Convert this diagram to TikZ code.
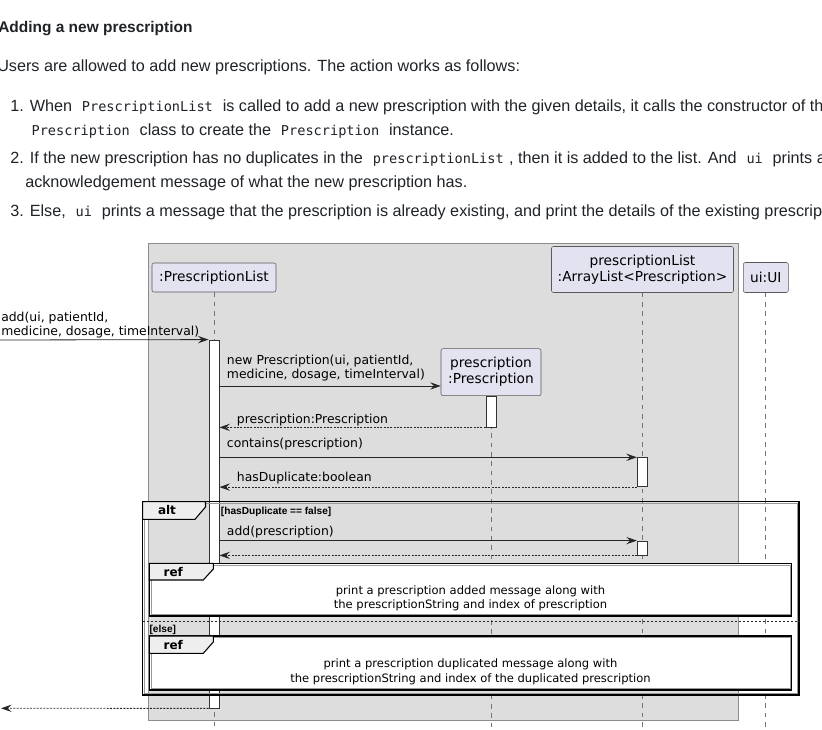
\documentclass[tikz,border=0pt]{standalone}
\usepackage{fontspec}
\setmainfont{Liberation Sans}
\newfontfamily\umlfont{DejaVu Sans}
\newfontfamily\codefont{DejaVu Sans Mono}
\usetikzlibrary{arrows.meta}

\definecolor{ghtext}{HTML}{1F2328}
\definecolor{boxgray}{HTML}{DDDDDD}
\definecolor{partfill}{HTML}{E2E2F0}
\definecolor{tabfill}{HTML}{EEEEEE}

\newcommand{\inlinecode}[1]{\hspace{4pt}{\codefont\fontsize{10.2}{12}\selectfont #1}\hspace{4pt}}

\tikzset{
	bodytext/.style={anchor=base west, inner sep=0pt, text=ghtext, font=\fontsize{12.15}{15}\selectfont},
	participant/.style={draw=black!65, fill=partfill, rounded corners=1.5pt, inner sep=0pt, align=center, font=\umlfont\fontsize{10.3}{12}\selectfont},
	lifeline/.style={black!55, line width=0.5pt, dash pattern=on 3.5pt off 3.5pt},
	actbar/.style={draw=black!80, fill=white, line width=0.6pt, inner sep=0pt, minimum width=7.5pt},
	msg/.style={black!85, line width=0.6pt, -{Stealth[length=8pt,width=5.5pt,inset=3pt]}},
	retmsg/.style={msg, dash pattern=on 1.5pt off 1pt},
	msglabel/.style={anchor=base west, inner sep=0pt, align=left, font=\umlfont\fontsize{9.3}{10.5}\selectfont},
	guard/.style={anchor=base west, inner sep=0pt, font=\bfseries\fontsize{7.6}{10}\selectfont},
	tabtext/.style={inner sep=0pt, font=\umlfont\bfseries\fontsize{9}{10}\selectfont},
	grouptab/.style={draw=black, fill=tabfill, line width=0.8pt},
	frameouter/.style={draw=black, line width=0.9pt},
	frameinner/.style={draw=black!40, line width=0.5pt},
	reftext/.style={align=center, inner sep=0pt, font=\umlfont\fontsize{8.65}{11}\selectfont},
}

\begin{document}
\begin{tikzpicture}[x=0.75pt, y=-0.75pt]
	\useasboundingbox (0,0) rectangle (822,730);
	\clip (0,0) rectangle (822,730);

	% text above the diagram
	\node[bodytext, font=\bfseries\fontsize{11.6}{14}\selectfont] (title) at (-2,33) {Adding a new prescription};
	\node[bodytext] (intro) at (-3,72) {Users are allowed to add new prescriptions. The action works as follows:};
	\node[bodytext] (step1) at (10,112) {1. When \inlinecode{PrescriptionList} is called to add a new prescription with the given details, it calls the constructor of the};
	\node[bodytext] (step1b) at (26,136) {\inlinecode{Prescription} class to create the \inlinecode{Prescription} instance.};
	\node[bodytext] (step2) at (10,164) {2. If the new prescription has no duplicates in the \inlinecode{prescriptionList}, then it is added to the list. And \inlinecode{ui} prints an};
	\node[bodytext] (step2b) at (25,188) {acknowledgement message of what the new prescription has.};
	\node[bodytext] (step3) at (10,217) {3. Else, \inlinecode{ui} prints a message that the prescription is already existing, and print the details of the existing prescription.};

	% box round the logic classes
	\draw[fill=boxgray, draw=black!45, line width=0.5pt] (148,243) rectangle (738,720);

	% participants
	\node[participant, minimum width=124*0.75pt, minimum height=29*0.75pt] (plist) at (214,277.5) {:PrescriptionList};
	\node[participant, minimum width=182*0.75pt, minimum height=46*0.75pt] (parr) at (642.5,269.5) {prescriptionList\\:ArrayList<Prescription>};
	\node[participant, minimum width=45*0.75pt, minimum height=30*0.75pt] (pui) at (765.8,277.5) {ui:UI};
	\node[participant, minimum width=100*0.75pt, minimum height=47*0.75pt] (ppres) at (491,372.2) {prescription\\:Prescription};

	% lifelines
	\coordinate (bottom) at (0,730);
	\draw[lifeline] (plist.south) -- (plist.south |- bottom);
	\draw[lifeline] (parr.south) -- (parr.south |- bottom);
	\draw[lifeline] (pui.south) -- (pui.south |- bottom);
	\draw[lifeline] (ppres.south) -- (ppres.south |- bottom);

	% activations
	\node[actbar, minimum height=368*0.75pt] (act1) at (214,524) {};
	\node[actbar, minimum height=31*0.75pt] (act2) at (491,411.5) {};
	\node[actbar, minimum height=29*0.75pt] (act3) at (642.3,472.2) {};
	\node[actbar, minimum height=14*0.75pt] (act4) at (642.3,548) {};

	% messages
	\coordinate (caller) at (0,340);
	\draw[msg] (caller) -- (act1.north west);
	\node[msglabel] (addlabel) at (1,335.5) {add(ui, patientId,\\medicine, dosage, timeInterval)};

	\coordinate (newtip) at ([yshift=7.5pt]ppres.south west);
	\draw[msg] (act1.east |- newtip) -- (newtip);
	\node[msglabel] (newlabel) at (226.7,379) {new Prescription(ui, patientId,\\medicine, dosage, timeInterval)};

	\draw[retmsg] (act2.south west) -- (act1.east |- act2.south west);
	\node[msglabel] (retlabel) at (236.7,424) {prescription:Prescription};

	\draw[msg] (act1.east |- act3.north west) -- (act3.north west);
	\node[msglabel] (containslabel) at (226.7,448) {contains(prescription)};

	\draw[retmsg] (act3.south west) -- (act1.east |- act3.south west);
	\node[msglabel] (duplabel) at (236.7,482) {hasDuplicate:boolean};

	\draw[msg] (act1.east |- act4.north west) -- (act4.north west);
	\node[msglabel] (addplabel) at (226.7,536) {add(prescription)};
	\draw[retmsg] (act4.south west) -- (act1.east |- act4.south west);

	% alt frame
	\draw[frameouter] (142.7,501.7) rectangle (799,695);
	\draw[frameinner] (144.4,503.4) rectangle (797.3,693.3);
	\filldraw[grouptab] (142.7,501.7) -- (205.5,501.7) -- (205.5,507) -- (195,519.3) -- (142.7,519.3) -- cycle;
	\node[tabtext] (alttag) at (167,510.5) {alt};
	\node[guard] (altguard) at (220.7,514.5) {[hasDuplicate == false]};

	% first ref
	\filldraw[frameouter, fill=white] (149.3,563.3) rectangle (791.7,616);
	\draw[frameinner] (151,565) rectangle (790,614.3);
	\filldraw[grouptab] (149.3,563.3) -- (213.3,563.3) -- (213.3,569) -- (203.3,580) -- (149.3,580) -- cycle;
	\node[tabtext] (reftag1) at (173.3,572) {ref};
	\node[reftext] (refbody1) at (470.5,598.3) {print a prescription added message along with\\the prescriptionString and index of prescription};

	% else part
	\draw[black!85, line width=0.5pt, dash pattern=on 1.5pt off 1.5pt] (142.7,621.7) -- (799,621.7);
	\node[guard] (elseguard) at (149.3,633) {[else]};

	% second ref
	\filldraw[frameouter, fill=white] (149.3,636) rectangle (791.7,690);
	\draw[frameinner] (151,637.7) rectangle (790,688.3);
	\filldraw[grouptab] (149.3,636) -- (213.3,636) -- (213.3,642) -- (203.3,653.3) -- (149.3,653.3) -- cycle;
	\node[tabtext] (reftag2) at (173.3,645) {ref};
	\node[reftext] (refbody2) at (470.5,671.7) {print a prescription duplicated message along with\\the prescriptionString and index of the duplicated prescription};

	% back to the caller
	\coordinate (callerend) at (1,708.3);
	\draw[retmsg] (act1.south west) -- (callerend);
\end{tikzpicture}
\end{document}
